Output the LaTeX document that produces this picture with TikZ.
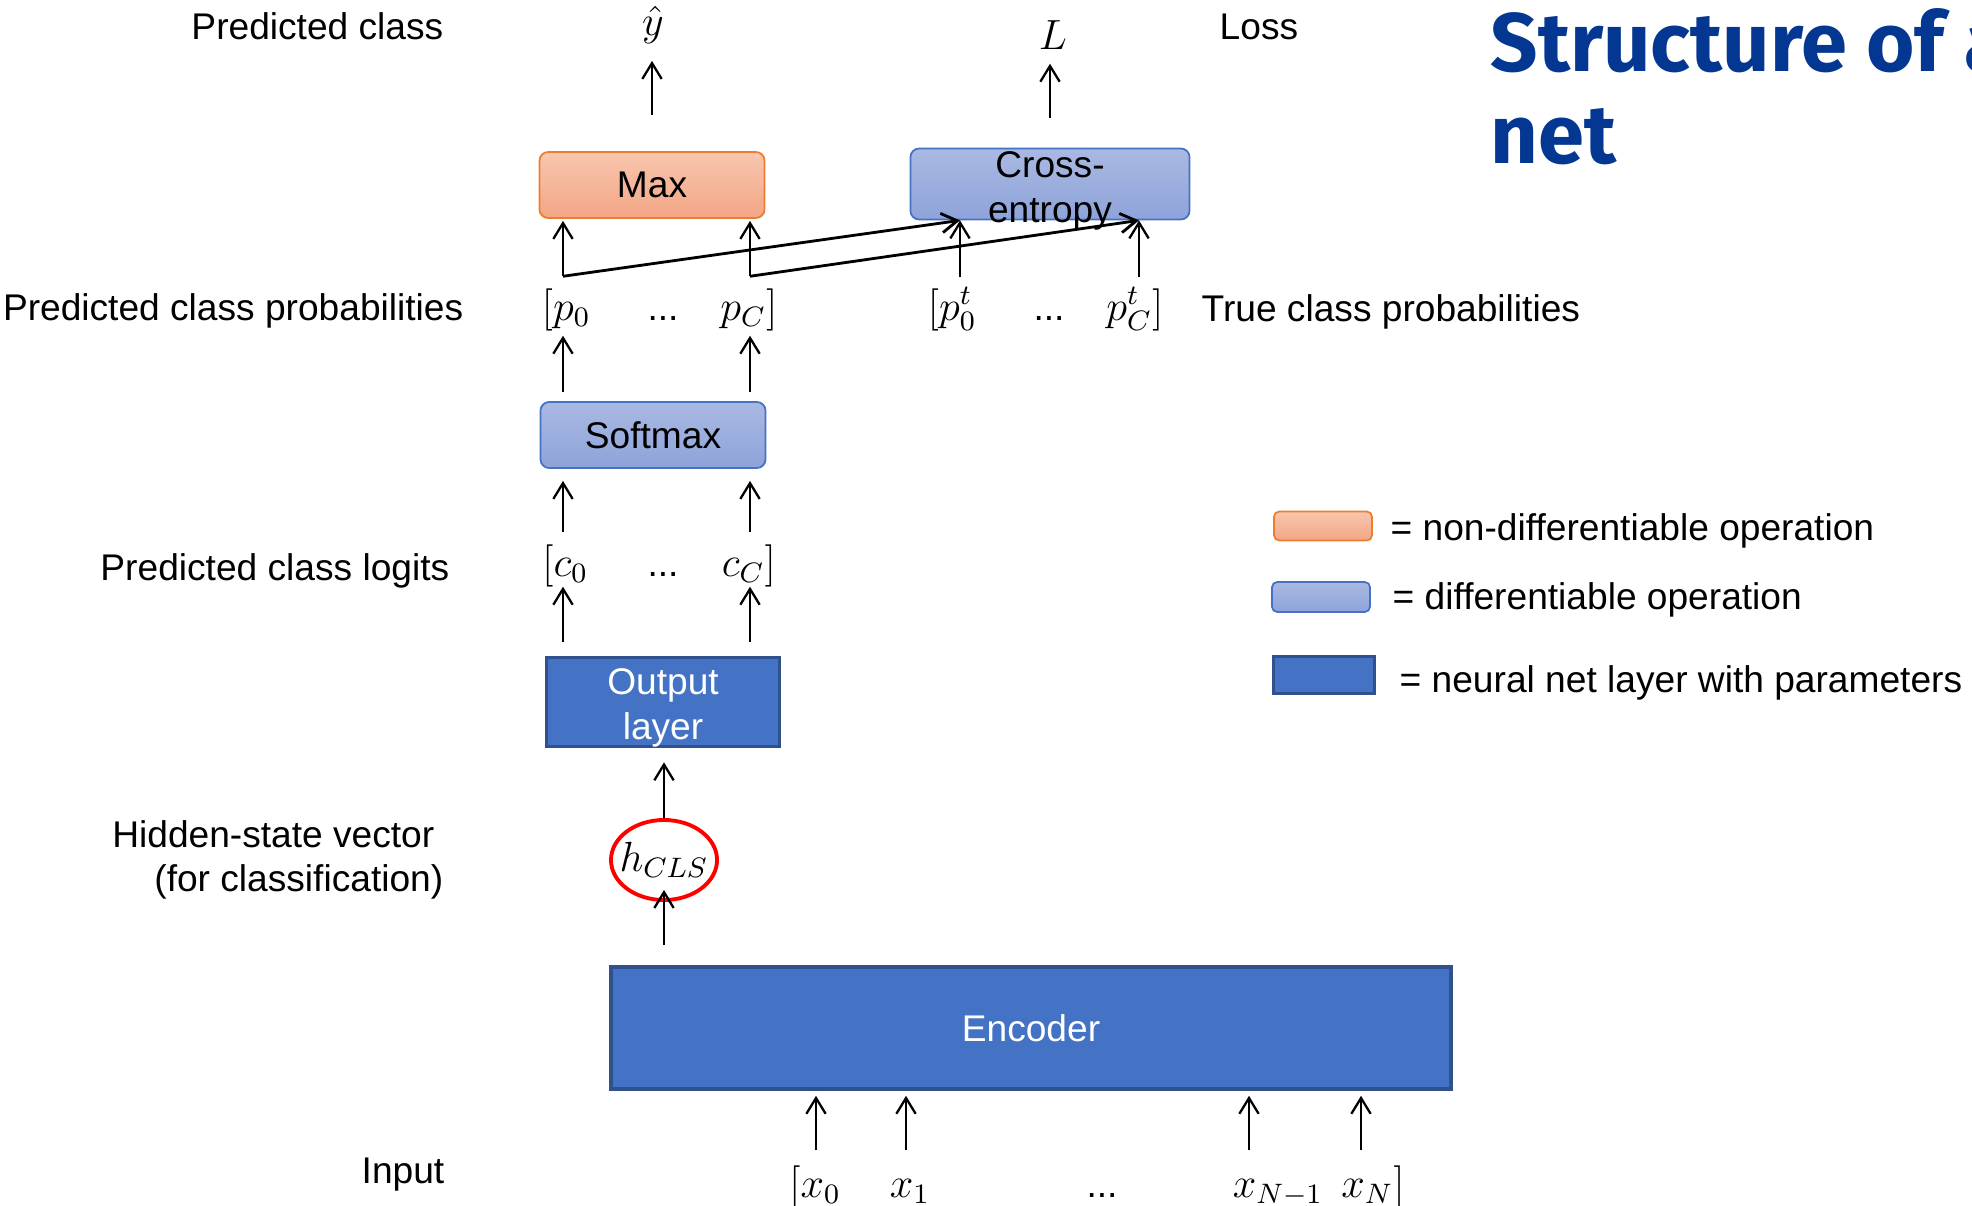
\documentclass[tikz,border=0pt]{standalone}
\usepackage{amsmath}
\usepackage{fontspec}
\setmainfont{Liberation Sans}
\newfontfamily\titlefont{Fira Sans}
\usetikzlibrary{arrows.meta, shapes.geometric}

\begin{document}
\begin{tikzpicture}[x = 0.01cm, y = -0.01cm,
    every node/.style = {inner sep = 0pt, font = \fontsize{10.56}{12.8}\selectfont},
    arr/.style = {-{Straight Barb[length = 4.5pt, width = 5.5pt]}, line width = 0.65pt},
    lbl/.style = {anchor = base east},
    mathtok/.style = {anchor = base, font = \fontsize{12}{14}\selectfont},
    opbox/.style = {rounded corners = 2.5pt, line width = 0.5pt, minimum width = 2.25cm, minimum height = 0.66cm},
    nondiffop/.style = {opbox, draw = maxEdge, top color = maxTop, bottom color = maxBot},
    diffop/.style = {opbox, draw = diffEdge, top color = diffTop, bottom color = diffBot},
    netlayer/.style = {draw = layerEdge, fill = layerFill, line width = 1pt, text = white},
    titletxt/.style = {anchor = base west, text = titleBlue, font = \titlefont\fontsize{23.6}{26}\selectfont\bfseries}]

            %\draw [step = 100, help lines] (0,0) grid (1972,1206);
            \useasboundingbox (0,0) rectangle (1972,1206);
            \clip (0,0) rectangle (1972,1206);

            \definecolor{maxTop}{RGB}{248,198,175}
            \definecolor{maxBot}{RGB}{243,166,133}
            \definecolor{maxEdge}{RGB}{237,125,49}
            \definecolor{diffTop}{RGB}{170,185,226}
            \definecolor{diffBot}{RGB}{142,163,218}
            \definecolor{diffEdge}{RGB}{68,114,196}
            \definecolor{layerFill}{RGB}{68,114,196}
            \definecolor{layerEdge}{RGB}{47,82,143}
            \definecolor{titleBlue}{RGB}{3,55,145}

            \node [titletxt] (title) at (1490,71) {Structure of a};
            \node [titletxt] (title2) at (1490,163) {net};

            \node [lbl] (lclass) at (444,39) {Predicted class};
            \node [lbl] (lprob) at (464,320) {Predicted class probabilities};
            \node [lbl] (llogit) at (450,580) {Predicted class logits};
            \node [lbl] (lhid) at (435,847) {Hidden-state vector};
            \node [lbl] (lfor) at (444,891) {(for classification)};
            \node [lbl] (linput) at (445,1183) {Input};
            \node [anchor = base west] (lloss) at (1219,39) {Loss};
            \node [anchor = base west] (ltrue) at (1201,321) {True class probabilities};

            \node [nondiffop] (max) at (652,185) {Max};
            \node [diffop, minimum width = 2.79cm, minimum height = 0.71cm] (ce) at (1050,184) {};
            \node [align = center] (cetext) at (1050,191) {Cross-\\entropy};
            \node [diffop] (sm) at (653,435) {Softmax};
            \node [netlayer, minimum width = 2.33cm, minimum height = 0.89cm] (out) at (663,702) {};
            \node [align = center, text = white] (outtext) at (663,708) {Output\\layer};
            \node [netlayer, minimum width = 8.4cm, minimum height = 1.22cm] (enc) at (1031,1028) {Encoder};
            \node [ellipse, draw = red, line width = 1.1pt, minimum width = 1.06cm, minimum height = 0.8cm, font = \fontsize{11.5}{13}\selectfont] (hcls) at (664,860) {\makebox[0pt]{$h_{CLS}$}};

            \node [mathtok] (yhat) at (653,35) {$\hat{y}$};
            \node [mathtok] (loss) at (1053,49) {$L$};

            % rows of values, arrows run along the columns
            \coordinate (colP0) at (563,0);
            \coordinate (colPC) at (750,0);
            \coordinate (colT0) at (960,0);
            \coordinate (colTC) at (1139,0);
            \coordinate (colX0) at (816,0);
            \coordinate (colX1) at (906,0);
            \coordinate (colXN1) at (1249,0);
            \coordinate (colXN) at (1361,0);

            \node [mathtok, text height = 0.43cm, text depth = 0.15cm] (p0) at (566,320) {$[p_0$};
            \node [anchor = base] (pdots) at (663,320) {...};
            \node [mathtok, text height = 0.43cm, text depth = 0.15cm] (pC) at (749,320) {$p_C]$};
            \node [mathtok, text height = 0.42cm] (pt0) at (952,320) {$[p_0^t$};
            \node [anchor = base] (ptdots) at (1049,320) {...};
            \node [mathtok, text height = 0.42cm] (ptC) at (1135,320) {$p_C^t]$};

            \node [mathtok, text height = 0.43cm, text depth = 0.10cm] (c0) at (565,576) {$[c_0$};
            \node [anchor = base] (cdots) at (663,576) {...};
            \node [mathtok, text height = 0.43cm, text depth = 0.10cm] (cC) at (749,576) {$c_C]$};

            \node [mathtok, text height = 0.46cm] (x0) at (815,1197) {$[x_0$};
            \node [mathtok, text height = 0.46cm] (x1) at (910,1197) {$x_1$};
            \node [anchor = base] (xdots) at (1102,1197) {...};
            \node [mathtok, text height = 0.46cm] (xN1) at (1278,1197) {$x_{N-1}$};
            \node [mathtok, text height = 0.46cm] (xN) at (1373,1197) {$x_N]$};

            \draw [arr, shorten <= 0.36cm, shorten >= 0.17cm] (max.north) -- (max.north |- yhat.south);
            \draw [arr, shorten <= 0.30cm, shorten >= 0.14cm] (ce.north) -- (ce.north |- loss.south);

            \draw [arr, shorten >= 0.02cm] (p0.north -| colP0) -- (max.south -| colP0);
            \draw [arr, shorten >= 0.02cm] (pC.north -| colPC) -- (max.south -| colPC);
            \draw [arr, line width = 0.8pt] (p0.north -| colP0) -- (ce.south -| colT0);
            \draw [arr, line width = 0.8pt] (pC.north -| colPC) -- (ce.south -| colTC);
            \draw [arr] (pt0.north -| colT0) -- (ce.south -| colT0);
            \draw [arr] (ptC.north -| colTC) -- (ce.south -| colTC);

            \draw [arr, shorten <= 0.09cm] (sm.north -| colP0) -- (p0.south -| colP0);
            \draw [arr, shorten <= 0.09cm] (sm.north -| colPC) -- (pC.south -| colPC);
            \draw [arr, shorten >= 0.12cm] (c0.north -| colP0) -- (sm.south -| colP0);
            \draw [arr, shorten >= 0.12cm] (cC.north -| colPC) -- (sm.south -| colPC);
            \draw [arr, shorten <= 0.14cm] (out.north -| colP0) -- (c0.south -| colP0);
            \draw [arr, shorten <= 0.14cm] (out.north -| colPC) -- (cC.south -| colPC);

            \draw [arr, shorten >= 0.14cm] (hcls.north) -- (out.south -| hcls);
            \draw [arr, shorten <= 0.20cm, shorten >= -0.12cm] (enc.north -| hcls) -- (hcls.south);

            \foreach \tok/\col in {x0/colX0, x1/colX1, xN1/colXN1, xN/colXN}
                \draw [arr, shorten >= 0.05cm] (\tok.north -| \col) -- (enc.south -| \col);

            \node [nondiffop, minimum width = 0.98cm, minimum height = 0.29cm, rounded corners = 1.5pt] (keyn) at (1323,526) {};
            \node [diffop, minimum width = 0.98cm, minimum height = 0.30cm, rounded corners = 1.5pt] (keyd) at (1321,597) {};
            \node [netlayer, minimum width = 1.01cm, minimum height = 0.37cm] (keyl) at (1324,675) {};
            \node [anchor = base west] (txtn) at (1390,540) {= non-differentiable operation};
            \node [anchor = base west] (txtd) at (1392,609) {= differentiable operation};
            \node [anchor = base west] (txtl) at (1399,692) {= neural net layer with parameters};

\end{tikzpicture}
\end{document}
